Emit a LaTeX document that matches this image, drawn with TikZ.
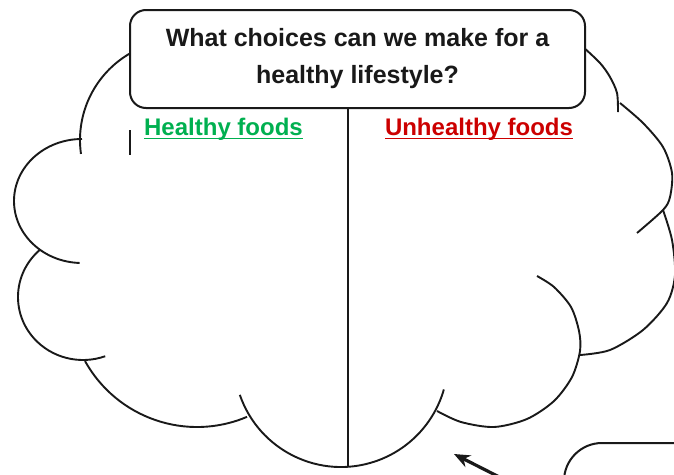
\documentclass[tikz,border=0pt]{standalone}
\usepackage{fontspec}
\setmainfont{Liberation Sans}
\usetikzlibrary{arrows.meta}
\definecolor{hgreen}{RGB}{0,176,80}
\definecolor{ured}{RGB}{204,0,0}
\definecolor{ink}{RGB}{25,25,25}
\newcommand\myuline[1]{\setbox0\hbox{#1}\rlap{\rule[-4.3pt]{\wd0}{1.8pt}}\box0}
\begin{document}
\begin{tikzpicture}[x=1pt,y=-1pt,
  cloudline/.style={line width=1.9pt, draw=ink},
  titlebox/.style={draw=ink, line width=2pt, fill=white, rounded corners=16pt,
    minimum width=455pt, minimum height=98pt, align=center, inner sep=0pt,
    font=\bfseries\fontsize{25}{37}\selectfont, text=ink},
  heading/.style={anchor=base, inner sep=0pt, font=\bfseries\fontsize{24}{28}\selectfont},
  calloutbox/.style={draw=ink, line width=2pt, rounded corners=38pt,
    minimum width=200pt, minimum height=100pt, anchor=north west, inner sep=0pt},
  pointer/.style={draw=ink, line width=3.2pt, -{Stealth[length=16pt,width=13pt]}}
]
\useasboundingbox (0,0) rectangle (674,474);
\clip (0,0) rectangle (674,474);
\fill[white] (0,0) rectangle (674,474);

% cloud outline
\draw[cloudline] ([shift={(243:100)}]180,140) arc[start angle=243, end angle=172, radius=100];
\draw[cloudline] ([shift={(270:68 and 62)}]82,201) arc[start angle=270, end angle=92, x radius=68, y radius=62];
\draw[cloudline] ([shift={(229:65 and 63)}]83,297) arc[start angle=229, end angle=70, x radius=65, y radius=63];
\draw[cloudline] ([shift={(151:128)}]197,299) arc[start angle=151, end angle=67, radius=128];
\draw[cloudline] ([shift={(161:107)}]341,360) arc[start angle=161, end angle=16, radius=107];
\draw[cloudline] plot[smooth] coordinates {(437,411) (461,422) (494,427) (527,419) (554,401) (572,377) (580,351) (579,331) (571,307) (554,287) (537,276)};
\draw[cloudline] plot[smooth] coordinates {(580,355) (610,350) (643,330) (667,303) (675,275) (672,240) (663,210)};
\draw[cloudline] plot[smooth] coordinates {(620,103) (643,123) (663,147) (672,173) (670,197) (663,210) (637,233)};
\draw[cloudline] plot[smooth] coordinates {(582,46) (600,63) (610,77) (617,93) (618,112)};

% title box
\node[titlebox] (title) at (357.5,59) {What choices can we make for a\\healthy lifestyle?};

% divider
\coordinate (divbot) at (348,467);
\draw[cloudline] (title.south -| divbot) -- (divbot);

% headings
\node[heading, text=hgreen] (healthy) at (223.5,135) {\myuline{Healthy foods}};
\node[heading, text=ured] (unhealthy) at (479,135) {\myuline{Unhealthy foods}};

% text cursor
\coordinate (curtop) at (130,130);
\coordinate (curbot) at (130,155);
\draw[line width=1.6pt, ink] (curtop) -- (curbot);

% callout box and pointer
\node[calloutbox] (callout) at (563,442) {};
\coordinate (arrtail) at (515,485);
\coordinate (arrtip) at (454,454);
\draw[pointer] (arrtail) -- (arrtip);
\end{tikzpicture}
\end{document}
